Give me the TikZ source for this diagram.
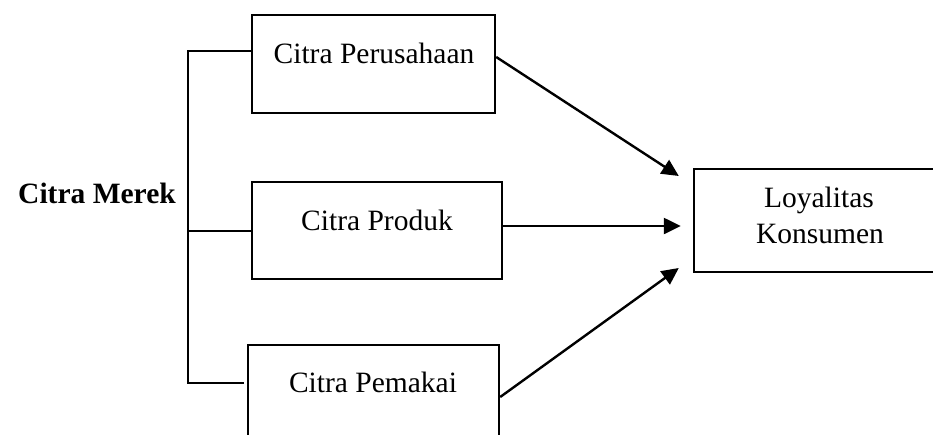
\documentclass[tikz,border=0pt]{standalone}
\usepackage{fontspec}
\setmainfont{Liberation Serif}
\usetikzlibrary{arrows.meta}
\begin{document}
\begin{tikzpicture}[x=1pt,y=-1pt,
  box/.style={draw,line width=2.4pt,inner sep=0pt,rectangle},
  lbl/.style={anchor=base,inner sep=0pt,font=\fontsize{29.5}{34}\selectfont},
  bracket/.style={line width=1.3pt},
  arr/.style={line width=2.4pt,-{Triangle[length=17pt,width=16pt]}}]
\useasboundingbox (0,0) rectangle (933,434);
\clip (0,0) rectangle (933,434);
\fill[white] (0,0) rectangle (933,434);
% boxes
\node[box,minimum width=243pt,minimum height=98pt] (p) at (373.5,64) {};
\node[box,minimum width=250pt,minimum height=97pt] (k) at (377,230.5) {};
\node[box,minimum width=251pt,minimum height=98pt] (m) at (373.5,394) {};
\node[box,minimum width=266pt,minimum height=103pt] (l) at (827,220.5) {};
% labels
\node[lbl] (tp) at (374,63) {Citra Perusahaan};
\node[lbl] (tk) at (377,230) {Citra Produk};
\node[lbl] (tm) at (373,392) {Citra Pemakai};
\node[lbl] (tl1) at (819,207) {Loyalitas};
\node[lbl] (tl2) at (820,243) {Konsumen};
\node[lbl,font=\fontsize{29.5}{34}\selectfont\bfseries] (cm) at (97,203) {Citra Merek};
% bracket
\coordinate (b1) at (188,51);
\coordinate (b2) at (188,231);
\coordinate (b3) at (188,383);
\draw[bracket] (p.west |- b1) -- (b1) -- (b3) -- ([xshift=-3pt]m.west |- b3);
\draw[bracket] (b2) -- (k.west |- b2);
% arrows
\draw[arr] ([yshift=7pt]p.east) -- ([xshift=-14pt,yshift=44.5pt]l.west);
\draw[arr] ([yshift=4.5pt]k.east) -- ([xshift=-12pt,yshift=-5.5pt]l.west);
\draw[arr] ([yshift=-3pt]m.east) -- ([xshift=-14pt,yshift=-47.5pt]l.west);
\end{tikzpicture}
\end{document}
